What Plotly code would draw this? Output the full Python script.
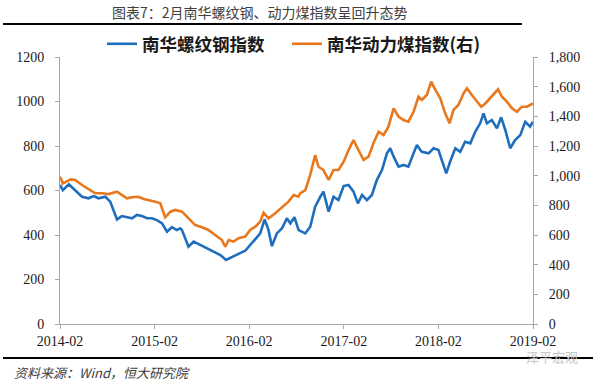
import plotly.graph_objects as go

# 南华螺纹钢指数 (left axis)
rebar_dates = [
    "2014-02-01", "2014-02-12", "2014-03-07", "2014-04-01", "2014-04-27", "2014-05-22",
    "2014-06-11", "2014-06-30", "2014-07-26", "2014-08-14", "2014-08-27", "2014-09-09",
    "2014-09-28", "2014-10-17", "2014-11-06", "2014-11-25", "2014-12-14", "2015-01-03",
    "2015-01-22", "2015-02-10", "2015-03-02", "2015-03-21", "2015-04-09", "2015-04-28",
    "2015-05-11", "2015-05-18", "2015-06-12", "2015-07-02", "2015-07-27", "2015-08-22",
    "2015-09-17", "2015-10-13", "2015-11-04", "2015-11-27", "2015-12-22", "2016-01-17",
    "2016-02-05", "2016-02-25", "2016-03-15", "2016-04-01", "2016-04-16", "2016-04-29",
    "2016-05-18", "2016-06-07", "2016-06-26", "2016-07-09", "2016-07-25", "2016-08-10",
    "2016-09-05", "2016-09-24", "2016-10-13", "2016-11-02", "2016-11-14", "2016-12-04",
    "2016-12-23", "2017-01-11", "2017-01-31", "2017-02-19", "2017-03-10", "2017-03-27",
    "2017-04-12", "2017-05-01", "2017-05-20", "2017-06-08", "2017-06-28", "2017-07-17",
    "2017-07-30", "2017-08-12", "2017-08-31", "2017-09-19", "2017-10-08", "2017-10-28",
    "2017-11-10", "2017-11-23", "2017-11-29", "2017-12-25", "2018-01-13", "2018-02-01",
    "2018-02-14", "2018-03-03", "2018-03-18", "2018-04-07", "2018-04-26", "2018-05-15",
    "2018-06-04", "2018-06-23", "2018-07-12", "2018-07-25", "2018-08-07", "2018-08-26",
    "2018-09-15", "2018-10-01", "2018-10-17", "2018-11-05", "2018-11-24", "2018-12-14",
    "2019-01-02", "2019-01-21", "2019-02-01",
]
rebar_values = [
    625, 602, 628, 602, 572, 565,
    575, 565, 572, 550, 512, 470,
    485, 480, 475, 490, 485, 475,
    475, 467, 452, 415, 435, 422,
    430, 422, 347, 370, 355, 340,
    325, 310, 288, 302, 315, 329,
    355, 385, 407, 470, 422, 350,
    407, 430, 475, 452, 480, 422,
    407, 437, 527, 572, 595, 505,
    572, 557, 620, 625, 595, 542,
    580, 557, 580, 647, 692, 767,
    790, 752, 707, 715, 707, 767,
    804, 782, 774, 767, 790, 782,
    737, 677, 729, 790, 774, 819,
    812, 864, 902, 947, 902, 917,
    879, 929, 872, 790, 827, 849,
    909, 887, 909,
]

# 南华动力煤指数 (right axis)
coal_dates = [
    "2014-02-01", "2014-02-12", "2014-03-14", "2014-04-01", "2014-04-27", "2014-05-22",
    "2014-06-17", "2014-07-13", "2014-08-07", "2014-09-09", "2014-09-28", "2014-10-17",
    "2014-11-06", "2014-12-01", "2014-12-21", "2015-01-09", "2015-02-04", "2015-02-23",
    "2015-03-14", "2015-04-03", "2015-04-22", "2015-05-18", "2015-06-12", "2015-07-08",
    "2015-08-03", "2015-08-28", "2015-09-23", "2015-10-19", "2015-11-01", "2015-11-14",
    "2015-12-03", "2015-12-22", "2016-01-17", "2016-02-05", "2016-02-25", "2016-03-15",
    "2016-03-28", "2016-04-16", "2016-05-12", "2016-06-07", "2016-07-02", "2016-07-22",
    "2016-08-10", "2016-08-16", "2016-09-05", "2016-09-24", "2016-10-13", "2016-10-26",
    "2016-11-14", "2016-12-04", "2016-12-23", "2017-01-11", "2017-01-31", "2017-02-19",
    "2017-03-10", "2017-03-29", "2017-04-18", "2017-05-07", "2017-05-26", "2017-06-15",
    "2017-07-04", "2017-07-23", "2017-08-12", "2017-08-31", "2017-09-19", "2017-10-08",
    "2017-10-28", "2017-11-16", "2017-11-29", "2017-12-18", "2018-01-04", "2018-01-20",
    "2018-02-08", "2018-02-27", "2018-03-16", "2018-03-31", "2018-04-19", "2018-05-09",
    "2018-05-22", "2018-06-10", "2018-06-29", "2018-07-16", "2018-08-01", "2018-08-20",
    "2018-09-08", "2018-09-19", "2018-10-04", "2018-10-23", "2018-11-12", "2018-12-01",
    "2018-12-20", "2019-01-09", "2019-02-01",
]
coal_values = [
    993, 948, 975, 971, 937, 908,
    881, 881, 876, 892, 870, 847,
    854, 858, 843, 836, 825, 814,
    719, 757, 769, 757, 712, 667,
    652, 634, 600, 566, 521, 566,
    555, 578, 589, 634, 656, 690,
    750, 712, 746, 787, 825, 870,
    858, 881, 903, 1005, 1139, 1060,
    1038, 971, 1038, 1038, 1094, 1173,
    1240, 1173, 1106, 1128, 1218, 1297,
    1274, 1330, 1454, 1398, 1375, 1364,
    1431, 1532, 1510, 1544, 1634, 1578,
    1522, 1420, 1353, 1443, 1477, 1555,
    1589, 1544, 1499, 1465, 1487, 1522,
    1555, 1582, 1532, 1499, 1454, 1431,
    1465, 1465, 1487,
]

left_ticks = [0, 200, 400, 600, 800, 1000, 1200]
right_ticks = [0, 200, 400, 600, 800, 1000, 1200, 1400, 1600, 1800]

BLUE = "#1f6ebe"
ORANGE = "#e8781e"
AXIS = "#a6a6a6"
SERIF = "Liberation Serif"
CJK = "Noto Sans CJK SC"

fig = go.Figure()
fig.add_trace(go.Scatter(
    x=rebar_dates, y=rebar_values, name="南华螺纹钢指数", mode="lines",
    line=dict(color=BLUE, width=2.6), yaxis="y", legend="legend",
))
fig.add_trace(go.Scatter(
    x=coal_dates, y=coal_values, name="南华动力煤指数(右)", mode="lines",
    line=dict(color=ORANGE, width=2.6), yaxis="y2", legend="legend2",
))

legend_font = dict(family=CJK, size=17.5, color="#1a1a1a", weight="bold")

fig.update_layout(
    width=600, height=384,
    margin=dict(l=60, r=67, t=57, b=60),
    paper_bgcolor="white", plot_bgcolor="white",
    showlegend=True,
    legend=dict(
        orientation="h", x=(102 - 60) / 473, xanchor="left", y=1.049, yanchor="middle",
        font=legend_font, bgcolor="rgba(0,0,0,0)", itemclick=False,
    ),
    legend2=dict(
        orientation="h", x=(287 - 60) / 473, xanchor="left", y=1.049, yanchor="middle",
        font=legend_font, bgcolor="rgba(0,0,0,0)", itemclick=False,
    ),
    xaxis=dict(
        type="date", range=["2014-02-01", "2019-02-01"],
        tick0="2014-02-01", dtick="M12", tickformat="%Y-%m",
        showgrid=False, zeroline=False,
        showline=True, linecolor=AXIS, linewidth=1,
        ticks="outside", ticklen=4, tickcolor=AXIS,
        tickfont=dict(family=SERIF, size=14, color="#1a1a1a"),
    ),
    yaxis=dict(
        range=[0, 1200], tickvals=left_ticks, tickformat="d",
        showgrid=False, zeroline=False,
        showline=True, linecolor=AXIS, linewidth=1,
        ticks="outside", ticklen=4, tickcolor=AXIS,
        ticklabelstandoff=8,
        tickfont=dict(family=SERIF, size=14, color="#1a1a1a"),
    ),
    yaxis2=dict(
        range=[0, 1800], tickvals=right_ticks, tickformat=",d",
        overlaying="y", side="right",
        showgrid=False, zeroline=False,
        showline=True, linecolor=AXIS, linewidth=1,
        ticks="outside", ticklen=4, tickcolor=AXIS,
        ticklabelstandoff=8,
        tickfont=dict(family=SERIF, size=14, color="#1a1a1a"),
    ),
)

# title and rules
fig.add_annotation(
    text="图表7：2月南华螺纹钢、动力煤指数呈回升态势",
    xref="paper", yref="paper", x=(260 - 60) / 473, y=(324 - 12) / 267,
    xanchor="center", yanchor="middle", showarrow=False,
    font=dict(family=CJK, size=14, color="#404040"),
)
fig.add_shape(type="line", xref="paper", yref="paper",
              x0=(3 - 60) / 473, x1=(522 - 60) / 473,
              y0=(324 - 24) / 267, y1=(324 - 24) / 267,
              line=dict(color="black", width=2))
fig.add_shape(type="line", xref="paper", yref="paper",
              x0=(3 - 60) / 473, x1=(593 - 60) / 473,
              y0=(324 - 358) / 267, y1=(324 - 358) / 267,
              line=dict(color="black", width=2))
fig.add_annotation(
    text="资料来源：Wind，恒大研究院",
    xref="paper", yref="paper", x=(12 - 60) / 473, y=(324 - 372) / 267,
    xanchor="left", yanchor="middle", showarrow=False,
    font=dict(family=CJK, size=13, color="#404040", style="italic"),
)
fig.add_annotation(
    text="泽平宏观",
    xref="paper", yref="paper", x=(552 - 60) / 473, y=(324 - 356) / 267,
    xanchor="center", yanchor="middle", showarrow=False,
    font=dict(family=CJK, size=13, color="#c8c8c8"),
)

fig.write_html(
    "out.html",
    config={"displayModeBar": False},
    post_script="document.body.style.margin='0';",
)
